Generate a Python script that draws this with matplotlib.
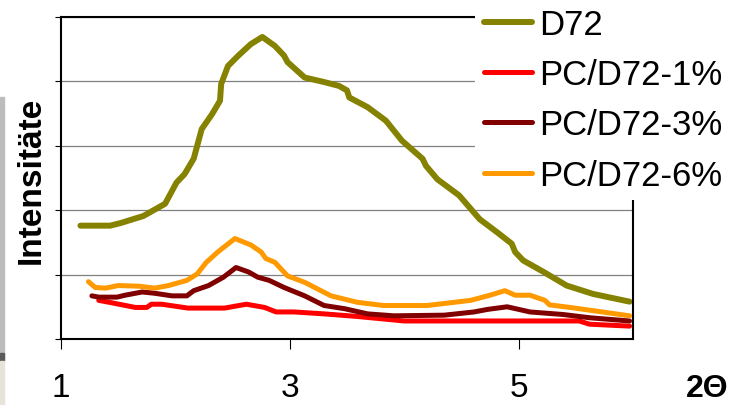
import matplotlib
matplotlib.use("Agg")
import matplotlib.pyplot as plt
from matplotlib.patches import Rectangle

# Werte (2Theta, Intensität in Gitterlinien-Einheiten)
d72_x = [1.17, 1.43, 1.52, 1.72, 1.91, 2.01, 2.08, 2.16, 2.23, 2.32, 2.39, 2.40, 2.46, 2.55, 2.66, 2.76,
         2.87, 2.95, 2.98, 3.13, 3.30, 3.43, 3.50, 3.52, 3.68, 3.84, 3.98, 4.16, 4.19, 4.29, 4.48,
         4.66, 4.81, 4.94, 4.97, 5.04, 5.22, 5.42, 5.65, 5.97]
d72_y = [1.76, 1.76, 1.80, 1.91, 2.10, 2.43, 2.56, 2.80, 3.26, 3.49, 3.70, 3.96, 4.24, 4.40, 4.58, 4.69,
         4.55, 4.40, 4.30, 4.06, 3.99, 3.93, 3.86, 3.75, 3.60, 3.39, 3.08, 2.80, 2.69, 2.48, 2.23,
         1.86, 1.66, 1.48, 1.35, 1.22, 1.04, 0.83, 0.70, 0.58]

pc1_x = [1.33, 1.45, 1.65, 1.75, 1.79, 1.88, 2.11, 2.43, 2.62, 2.78, 2.88, 3.04, 3.30, 3.59, 4.00,
         4.58, 5.53, 5.62, 5.97]
pc1_y = [0.60, 0.56, 0.49, 0.49, 0.54, 0.54, 0.48, 0.48, 0.54, 0.49, 0.42, 0.42, 0.39, 0.35, 0.28,
         0.28, 0.28, 0.23, 0.20]

pc3_x = [1.27, 1.33, 1.49, 1.56, 1.71, 1.82, 1.97, 2.10, 2.16, 2.29, 2.42, 2.53, 2.64, 2.72, 2.82,
         2.95, 3.13, 3.30, 3.48, 3.68, 3.91, 4.35, 4.61, 4.73, 4.90, 5.10, 5.39, 5.62, 5.97]
pc3_y = [0.67, 0.65, 0.65, 0.68, 0.73, 0.71, 0.67, 0.67, 0.75, 0.83, 0.96, 1.11, 1.04, 0.96, 0.91,
         0.80, 0.67, 0.52, 0.47, 0.39, 0.36, 0.37, 0.42, 0.46, 0.50, 0.42, 0.38, 0.33, 0.28]

pc6_x = [1.24, 1.30, 1.39, 1.50, 1.68, 1.82, 1.94, 2.10, 2.19, 2.27, 2.37, 2.52, 2.66, 2.75, 2.79,
         2.87, 2.98, 3.13, 3.36, 3.59, 3.82, 4.20, 4.58, 4.75, 4.88, 4.97, 5.10, 5.23, 5.27, 5.45, 5.97]
pc6_y = [0.89, 0.80, 0.79, 0.83, 0.82, 0.79, 0.83, 0.91, 1.01, 1.19, 1.35, 1.56, 1.46, 1.35, 1.25,
         1.19, 0.98, 0.88, 0.67, 0.57, 0.52, 0.52, 0.60, 0.68, 0.75, 0.68, 0.68, 0.60, 0.53, 0.49, 0.36]

x_ticks = [1, 3, 5]
y_ticks = [0, 1, 2, 3, 4, 5]

plt.rcParams["font.family"] = ["Liberation Sans", "DejaVu Sans"]

fig = plt.figure(figsize=(7.32, 4.06), dpi=100)
ax = fig.add_axes([61 / 732, 66 / 406, 572 / 732, 322 / 406])

# grauer Rand links (Bildschirmfoto)
fig.patches.append(Rectangle((0, 46 / 406), 4 / 732, 262 / 406, transform=fig.transFigure,
                             color="#bcbcbc", zorder=0))
fig.patches.append(Rectangle((0, 44 / 406), 4 / 732, 8 / 406, transform=fig.transFigure,
                             color="#5a5a5a", zorder=0))
fig.patches.append(Rectangle((0, 0), 4 / 732, 44 / 406, transform=fig.transFigure,
                             color="#e8e3d8", zorder=0))

kw = dict(solid_capstyle="round", solid_joinstyle="round")
ax.plot(d72_x, d72_y, color="#848200", lw=4.3, label="D72", **kw)
ax.plot(pc1_x, pc1_y, color="#ff0000", lw=3.6, label="PC/D72-1%", **kw)
ax.plot(pc3_x, pc3_y, color="#800000", lw=3.6, label="PC/D72-3%", **kw)
ax.plot(pc6_x, pc6_y, color="#ff9900", lw=3.6, label="PC/D72-6%", **kw)

ax.set_xlim(1, 6)
ax.set_ylim(0, 5)
ax.set_xticks(x_ticks)
ax.set_xticklabels([str(t) for t in x_ticks])
ax.set_yticks(y_ticks)
ax.set_yticklabels([])
ax.yaxis.grid(True, color="#808080", lw=0.9)
ax.set_axisbelow(True)

for s in ax.spines.values():
    s.set_color("black")
    s.set_linewidth(1.5)

ax.tick_params(axis="x", direction="out", length=7, width=0.8, pad=17, labelsize=24)
ax.tick_params(axis="y", direction="out", length=4.5, width=0.8)

ax.set_ylabel("Intensitäte", fontsize=24, fontweight="bold")
ax.yaxis.set_label_coords(-30 / 572, 160 / 322)
ax.yaxis.label.set_va("center")

ax.set_xlabel("2Θ", fontsize=23, fontweight="bold")
ax.xaxis.set_label_coords(646 / 572, -49 / 322)
ax.xaxis.label.set_va("center")

leg = fig.legend(loc="upper left", bbox_to_anchor=(475 / 732, 1.0), fontsize=25,
                 frameon=True, facecolor="white", edgecolor="none", framealpha=1,
                 handlelength=1.4, handletextpad=0.2, labelspacing=0.5,
                 borderpad=0.25, borderaxespad=0)
for h in leg.get_lines():
    h.set_solid_capstyle("round")

fig.savefig("out.png", dpi=100)
